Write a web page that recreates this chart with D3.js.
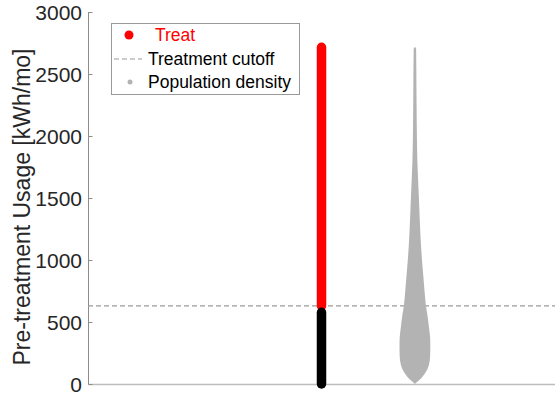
<!DOCTYPE html>
<html>
<head>
<meta charset="utf-8">
<script src="https://cdn.jsdelivr.net/npm/d3@7"></script>
<style>
  body { margin: 0; background: #fff; }
  svg { font-family: "Liberation Sans", Arial, sans-serif; }
</style>
</head>
<body>
<svg id="chart" width="555" height="396"></svg>
<script>
// chart values
var yTicks = [0, 500, 1000, 1500, 2000, 2500, 3000];
var cutoff = 630;
var treatX = 2.5, violinX = 3.5;
// treated (above cutoff) and untreated households, usage range of the column
var treatRange = [630, 2715];
var controlRange = [0, 578];
// violin: usage levels and relative density
var violinLevels = [0, 12, 40, 90, 150, 230, 300, 370, 450, 550, 630, 700, 850, 1000, 1200, 1500, 1800, 2100, 2400, 2700, 2715];
var violinDensity = [0, 0.1, 0.36, 0.68, 0.9, 0.99, 1, 0.99, 0.92, 0.82, 0.72, 0.66, 0.56, 0.46, 0.36, 0.26, 0.16, 0.12, 0.1, 0.08, 0.03];
var legendLabels = ["Treat", "Treatment cutoff", "Population density"];

var margin = {top: 12, right: 0, bottom: 12, left: 88},
    width = 555 - margin.left - margin.right,
    height = 396 - margin.top - margin.bottom;

var svg = d3.select("#chart");
var g = svg.append("g").attr("transform", "translate(" + margin.left + "," + margin.top + ")");

var x = d3.scaleLinear().domain([0, 5]).range([0, width]);
var y = d3.scaleLinear().domain([0, 3000]).range([height, 0]);
var w = d3.scaleLinear().domain([0, 1]).range([0, 15.4]);

// x axis line (no ticks)
g.append("line")
  .attr("x1", 0).attr("x2", width)
  .attr("y1", height + 0.5).attr("y2", height + 0.5)
  .style("stroke", "#bdbdbd").style("stroke-width", 1.5);

// y axis, ticks pointing inward
var yAxis = g.append("g").attr("transform", "translate(0.5,0)")
  .call(d3.axisRight(y).tickValues(yTicks).tickSize(4).tickFormat(""));
yAxis.select(".domain").attr("d", "M0," + y(3000) + "V" + y(0)).style("stroke", "#8c8c8c");
yAxis.selectAll(".tick line").style("stroke", "#8c8c8c");

g.selectAll(".ylab")
  .data(yTicks)
  .enter()
  .append("text")
  .attr("class", "ylab")
  .attr("x", -6)
  .attr("y", function(d) { return y(d); })
  .attr("dy", "0.36em")
  .attr("text-anchor", "end")
  .style("font-size", "21px")
  .style("fill", "#262626")
  .text(function(d) { return d; });

svg.append("text")
  .attr("transform", "translate(30,207) rotate(-90)")
  .attr("text-anchor", "middle")
  .style("font-size", "23px")
  .style("fill", "#262626")
  .text("Pre-treatment Usage [kWh/mo]");

// cutoff line
g.append("line")
  .attr("x1", 0).attr("x2", width)
  .attr("y1", y(cutoff)).attr("y2", y(cutoff))
  .style("stroke", "#9a9a9a").style("stroke-width", 1.2)
  .style("stroke-dasharray", "5,3");

// violin
var area = d3.area()
  .y(function(d, i) { return y(violinLevels[i]); })
  .x0(function(d) { return x(violinX) - w(d); })
  .x1(function(d) { return x(violinX) + w(d); })
  .curve(d3.curveMonotoneY);

g.append("path")
  .datum(violinDensity)
  .attr("d", area)
  .style("fill", "#b3b3b3");

// treatment column (drawn as thick round-capped bars of markers)
g.append("line")
  .attr("x1", x(treatX)).attr("x2", x(treatX))
  .attr("y1", y(treatRange[0])).attr("y2", y(treatRange[1]))
  .style("stroke", "#ff0000").style("stroke-width", 9.5)
  .style("stroke-linecap", "round");

g.append("line")
  .attr("x1", x(treatX)).attr("x2", x(treatX))
  .attr("y1", y(controlRange[0])).attr("y2", y(controlRange[1]))
  .style("stroke", "#000").style("stroke-width", 9.5)
  .style("stroke-linecap", "round");

// legend
var legend = svg.append("g").attr("transform", "translate(111,23)");
legend.append("rect")
  .attr("x", 0.5).attr("y", 0.5)
  .attr("width", 188).attr("height", 71)
  .style("fill", "#fff").style("stroke", "#999").style("stroke-width", 1);

legend.append("circle").attr("cx", 18).attr("cy", 12).attr("r", 4.5).style("fill", "#ff0000");
legend.append("line")
  .attr("x1", 3).attr("x2", 31).attr("y1", 36).attr("y2", 36)
  .style("stroke", "#9a9a9a").style("stroke-width", 1.2).style("stroke-dasharray", "5,3");
legend.append("circle").attr("cx", 19).attr("cy", 59).attr("r", 2.5).style("fill", "#b3b3b3");

legend.selectAll(".lg")
  .data(legendLabels)
  .enter()
  .append("text")
  .attr("class", "lg")
  .attr("x", function(d, i) { return i == 0 ? 44 : 37; })
  .attr("y", function(d, i) { return 12 + i * 23.5; })
  .attr("dy", "0.36em")
  .style("font-size", "17.5px")
  .style("fill", function(d, i) { return i == 0 ? "#ff0000" : "#000"; })
  .text(function(d) { return d; });
</script>
</body>
</html>
